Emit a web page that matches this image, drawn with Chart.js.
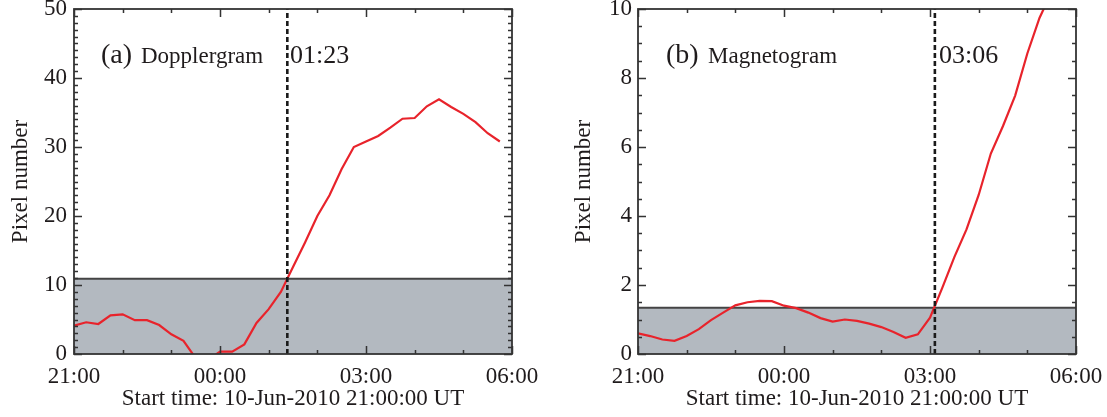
<!DOCTYPE html>
<html lang="en">
<head>
  <meta charset="UTF-8">
  <title>Dopplergram / Magnetogram pixel counts</title>
  <script src="https://cdn.jsdelivr.net/npm/chart.js"></script>
  <style>
    body { margin: 0; background: #fff; }
    .panel { position: absolute; top: 0; height: 417px; }
  </style>
</head>
<body>
  <div class="panel" style="left:0;width:553px"><canvas id="dopplerCanvas" width="553" height="417"></canvas></div>
  <div class="panel" style="left:553px;width:554px"><canvas id="magnetoCanvas" width="554" height="417"></canvas></div>

  <script>
    // hours after 21:00 UT on 10-Jun-2010
    const hours = [0, 0.25, 0.5, 0.75, 1, 1.25, 1.5, 1.75, 2, 2.25, 2.5, 2.75,
                   3, 3.25, 3.5, 3.75, 4, 4.25, 4.5, 4.75, 5, 5.25, 5.5, 5.75,
                   6, 6.25, 6.5, 6.75, 7, 7.25, 7.5, 7.75, 8, 8.25, 8.5, 8.75];

    const dopplerPixels = [4.1, 4.6, 4.35, 5.6, 5.75, 4.9, 4.9, 4.2, 2.85, 1.9, -0.6, -0.9,
                           0.35, 0.35, 1.4, 4.5, 6.5, 9.0, 12.6, 16.2, 20.0, 23.0, 26.8, 30.0,
                           30.8, 31.6, 32.8, 34.1, 34.2, 35.9, 36.9, 35.8, 34.8, 33.6, 32.0, 30.8];

    const magnetoHours = [0, 0.25, 0.5, 0.75, 1, 1.25, 1.5, 1.75, 2, 2.25, 2.5, 2.75,
                          3, 3.25, 3.5, 3.75, 4, 4.25, 4.5, 4.75, 5, 5.25, 5.5, 5.75,
                          6, 6.25, 6.5, 6.75, 7, 7.25, 7.5, 7.75, 8, 8.25, 8.5];

    const magnetoPixels = [0.6, 0.52, 0.42, 0.38, 0.52, 0.72, 0.98, 1.2, 1.41, 1.5, 1.54, 1.53,
                           1.4, 1.33, 1.2, 1.04, 0.94, 1.0, 0.96, 0.88, 0.78, 0.64, 0.47, 0.57,
                           1.05, 1.91, 2.81, 3.61, 4.61, 5.81, 6.61, 7.49, 8.71, 9.74, 10.5];

    const xTickLabels = ['21:00', '00:00', '03:00', '06:00'];   // every 3 h
    const dopplerThreshold = 10.9;
    const magnetoThreshold = 1.34;
    const dopplerOnset = 1 + 23 / 60 + 3;   // 01:23 UT
    const magnetoOnset = 6 + 6 / 60;        // 03:06 UT

    const SERIF = "'Liberation Serif', 'Times New Roman', serif";
    const INK = '#1f1b1c';

    // IDL-style frame: closed box with inward ticks on all four sides
    const idlFrame = {
      id: 'idlFrame',
      afterDatasetsDraw(chart, args, opts) {
        const { ctx, chartArea: a, scales: { x, y } } = chart;
        ctx.save();
        ctx.strokeStyle = '#333';
        ctx.lineWidth = 1.5;
        ctx.beginPath();
        for (let h = x.min; h <= x.max + 1e-9; h += 1) {
          const px = Math.round(x.getPixelForValue(h)) + 0.5;
          const len = Math.abs(h % 3) < 1e-9 ? 8 : 4;
          ctx.moveTo(px, a.bottom); ctx.lineTo(px, a.bottom - len);
          ctx.moveTo(px, a.top); ctx.lineTo(px, a.top + len);
        }
        const n = Math.round((y.max - y.min) / opts.minor);
        for (let i = 0; i <= n; i++) {
          const v = y.min + i * opts.minor;
          const py = Math.round(y.getPixelForValue(v)) + 0.5;
          const major = Math.abs(v / opts.major - Math.round(v / opts.major)) < 1e-6;
          const len = major ? 8 : 4;
          ctx.moveTo(a.left, py); ctx.lineTo(a.left + len, py);
          ctx.moveTo(a.right, py); ctx.lineTo(a.right - len, py);
        }
        ctx.stroke();
        ctx.lineWidth = 1.8;
        ctx.strokeRect(a.left, a.top, a.right - a.left, a.bottom - a.top);
        ctx.restore();
      }
    };

    // panel captions: "(a) Dopplergram", "01:23" ...
    const captions = {
      id: 'captions',
      afterDraw(chart, args, opts) {
        const { ctx } = chart;
        ctx.save();
        ctx.fillStyle = INK;
        ctx.textBaseline = 'alphabetic';
        opts.items.forEach(it => {
          ctx.font = it.size + 'px ' + SERIF;
          ctx.fillText(it.text, it.x, it.y);
        });
        ctx.restore();
      }
    };

    function makeChart(canvasId, cfg) {
      const points = cfg.hours.map((h, i) => ({ x: h, y: cfg.values[i] }));
      const ctx = document.getElementById(canvasId).getContext('2d');
      return new Chart(ctx, {
        type: 'line',
        data: {
          datasets: [
            {
              data: points,
              borderColor: '#e8232b',
              borderWidth: 2.2,
              pointRadius: 0,
              tension: 0,
              order: 2
            },
            {
              data: [{ x: cfg.onset, y: cfg.yMin }, { x: cfg.onset, y: cfg.yMax }],
              borderColor: '#1a1a1a',
              borderWidth: 2.6,
              borderDash: [5, 3],
              pointRadius: 0,
              order: 1
            },
            {
              data: [{ x: 0, y: cfg.threshold }, { x: 9, y: cfg.threshold }],
              borderColor: '#444',
              borderWidth: 2,
              backgroundColor: 'rgb(179,185,192)',
              fill: 'origin',
              pointRadius: 0,
              order: 3
            }
          ]
        },
        options: {
          responsive: false,
          animation: false,
          layout: { padding: { left: 0, right: cfg.padRight, top: 9, bottom: 0 } },
          plugins: {
            legend: { display: false },
            tooltip: { enabled: false },
            idlFrame: { major: cfg.yStep, minor: cfg.yMinor },
            captions: { items: cfg.captions }
          },
          scales: {
            x: {
              type: 'linear',
              min: 0,
              max: 9,
              grid: { display: false, drawTicks: false },
              border: { display: false },
              ticks: {
                stepSize: 1,
                autoSkip: false,
                maxRotation: 0,
                padding: 9,
                color: INK,
                font: { family: SERIF, size: 23 },
                callback: v => (v % 3 === 0 ? xTickLabels[v / 3] : '')
              },
              title: {
                display: true,
                text: 'Start time: 10-Jun-2010 21:00:00 UT',
                color: INK,
                font: { family: SERIF, size: 23 },
                padding: { top: 0, bottom: 4 }
              },
              afterFit(scale) {
                scale.height = 63;
                scale.paddingLeft = 0;
                scale.paddingRight = 0;
              }
            },
            y: {
              min: cfg.yMin,
              max: cfg.yMax,
              grid: { display: false, drawTicks: false },
              border: { display: false },
              ticks: {
                stepSize: cfg.yStep,
                padding: cfg.yTickPad,
                color: INK,
                font: { family: SERIF, size: 23 }
              },
              title: {
                display: true,
                text: 'Pixel number',
                color: INK,
                font: { family: SERIF, size: 23 },
                padding: { top: cfg.yTitlePad, bottom: 0 }
              },
              afterFit(scale) {
                scale.width = cfg.axisLeft;
                scale.paddingTop = 0;
                scale.paddingBottom = 0;
              }
            }
          }
        },
        plugins: [idlFrame, captions]
      });
    }

    makeChart('dopplerCanvas', {
      hours: hours,
      values: dopplerPixels,
      threshold: dopplerThreshold,
      onset: dopplerOnset,
      yMin: 0, yMax: 50, yStep: 10, yMinor: 1,
      axisLeft: 74, padRight: 41,
      yTickPad: 7, yTitlePad: 7,
      captions: [
        { text: '(a)', x: 101, y: 63, size: 28 },
        { text: 'Dopplergram', x: 141, y: 63, size: 23 },
        { text: '01:23', x: 290, y: 63, size: 26 }
      ]
    });

    makeChart('magnetoCanvas', {
      hours: magnetoHours,
      values: magnetoPixels,
      threshold: magnetoThreshold,
      onset: magnetoOnset,
      yMin: 0, yMax: 10, yStep: 2, yMinor: 0.5,
      axisLeft: 85, padRight: 31,
      yTickPad: 6, yTitlePad: 17,
      captions: [
        { text: '(b)', x: 113, y: 63, size: 28 },
        { text: 'Magnetogram', x: 155, y: 63, size: 23 },
        { text: '03:06', x: 386, y: 63, size: 26 }
      ]
    });
  </script>
</body>
</html>
